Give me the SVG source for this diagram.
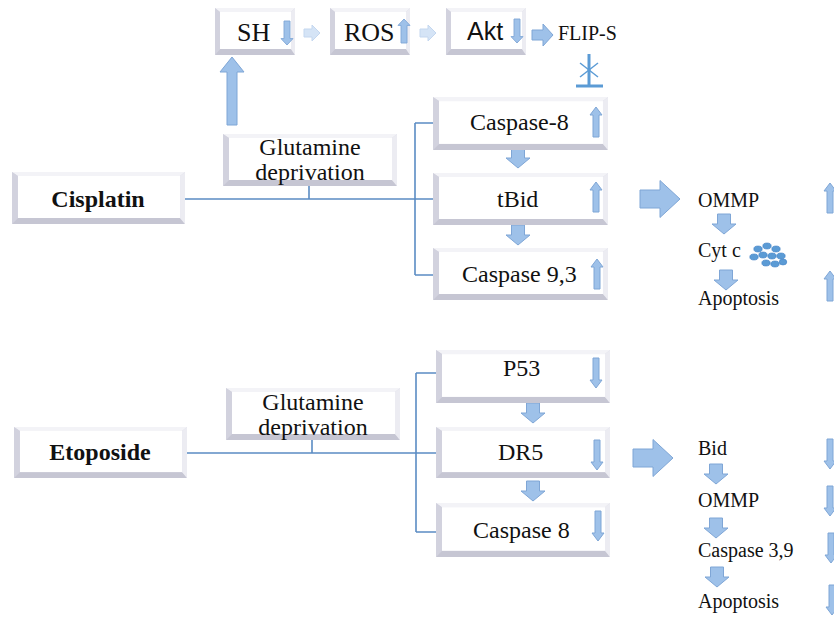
<svg xmlns="http://www.w3.org/2000/svg" xmlns:xlink="http://www.w3.org/1999/xlink" width="834" height="617" viewBox="0 0 834 617">
<style>
.t{font-family:"Liberation Serif","Times New Roman",serif;fill:#111}
.s24{font-size:24px}
.s20{font-size:20px}
.b{font-weight:bold}
.ln{stroke:#5b8cc4;stroke-width:1.6;fill:none}
.ar{fill:#9ec1e9;stroke:#7fa6d6;stroke-width:1}
.al{fill:#d5e4f6;stroke:#c4d7ef;stroke-width:1}
</style>
<defs>
<symbol id="box" viewBox="0 0 174 52" preserveAspectRatio="none">
<rect x="0" y="0" width="174" height="52" fill="#d9d9e4" stroke="#e4e4ec" stroke-width="1"/>
<polygon points="0,0 174,0 169,4 6,4" fill="#f3f3f7"/>
<polygon points="0,0 6,4 6,46 0,52" fill="#d2d2de"/>
<polygon points="0,52 6,46 169,46 174,52" fill="#c6c6d3"/>
<polygon points="174,0 174,52 169,46 169,4" fill="#ececf2"/>
<rect x="6" y="4" width="163" height="42" fill="#ffffff"/>
</symbol>
<symbol id="sbox" viewBox="0 0 80 47" preserveAspectRatio="none">
<rect x="0" y="0" width="80" height="47" fill="#d9d9e4" stroke="#e4e4ec" stroke-width="1"/>
<polygon points="0,0 80,0 76,4 5,4" fill="#f3f3f7"/>
<polygon points="0,0 5,4 5,41 0,47" fill="#d2d2de"/>
<polygon points="0,47 5,41 76,41 80,47" fill="#c6c6d3"/>
<polygon points="80,0 80,47 76,41 76,4" fill="#ececf2"/>
<rect x="5" y="4" width="71" height="37" fill="#ffffff"/>
</symbol>
<path id="up" class="ar" d="M0,-15 L6,-7 L3,-7 L3,15 L-3,15 L-3,-7 L-6,-7 Z"/>
<path id="dn" class="ar" d="M0,15 L6,7 L3,7 L3,-15 L-3,-15 L-3,7 L-6,7 Z"/>
<path id="bdn" class="ar" d="M-6.5,-10 L6.5,-10 L6.5,0 L12,0 L0,10 L-12,0 L-6.5,0 Z"/>
<path id="brt" class="ar" d="M-20,-9 L0,-9 L0,-18.5 L20,0 L0,18.5 L0,9 L-20,9 Z"/>
<path id="lrt" class="al" d="M-8,-4 L0,-4 L0,-8 L8,0 L0,8 L0,4 L-8,4 Z"/>
</defs>

<g id="connectors">
<path class="ln" d="M185,199 H415 M309,186 V199 M415,123 V275 M415,123 H433 M415,199 H433 M415,275 H433"/>
<path class="ln" d="M187,453 H416 M312,440 V453 M416,373 V532 M416,373 H436 M416,453 H436 M416,532 H436"/>
<path class="ar" d="M232,57 L244,72 L237,72 L237,125 L227,125 L227,72 L220,72 Z"/>
<use href="#lrt" x="312" y="33"/>
<use href="#lrt" x="428" y="33"/>
<path class="ar" d="M532,30 L543,30 L543,24 L553,35 L543,46 L543,40 L532,40 Z"/>
<g stroke="#5b9bd5" stroke-width="3" fill="none">
<line x1="589" y1="54" x2="589" y2="86"/>
<line x1="576" y1="86" x2="603" y2="86"/>
</g>
<g stroke="#5b9bd5" stroke-width="1.5">
<line x1="580" y1="63" x2="598" y2="77"/>
<line x1="580" y1="77" x2="598" y2="63"/>
</g>
<use href="#bdn" x="518" y="158"/>
<use href="#bdn" x="518" y="235"/>
<use href="#brt" x="660" y="199"/>
<use href="#bdn" x="724" y="224"/>
<use href="#bdn" x="726" y="280"/>
<use href="#bdn" x="533" y="413"/>
<use href="#bdn" x="533" y="491"/>
<use href="#brt" x="653" y="458"/>
<use href="#bdn" x="716" y="474"/>
<use href="#bdn" x="716" y="528"/>
<use href="#bdn" x="717" y="577"/>
</g>

<g id="n-sh">
<use href="#sbox" x="215" y="8" width="80" height="47"/>
<text class="t" x="237" y="41" font-size="26">SH</text>
<use href="#dn" x="287" y="33" transform="translate(287,33) scale(1,0.8) translate(-287,-33)"/>
</g>
<g id="n-ros">
<use href="#sbox" x="330" y="8" width="80" height="47"/>
<text class="t" x="344" y="41" font-size="26">ROS</text>
<use href="#up" x="404" y="31" transform="translate(404,31) scale(1,0.8) translate(-404,-31)"/>
</g>
<g id="n-akt">
<use href="#sbox" x="446" y="8" width="80" height="47"/>
<text x="467" y="40" font-size="25" font-family="Liberation Sans,Arial,sans-serif" fill="#111">Akt</text>
<use href="#dn" x="517" y="31" transform="translate(517,31) scale(1,0.8) translate(-517,-31)"/>
</g>
<g id="n-flips">
<text class="t" x="558" y="40" font-size="20">FLIP-S</text>
</g>

<g id="n-glut1">
<use href="#box" x="223" y="134" width="174" height="52"/>
<text class="t s24" x="310" y="155" text-anchor="middle">Glutamine</text>
<text class="t s24" x="310" y="180" text-anchor="middle">deprivation</text>
</g>
<g id="n-cisplatin">
<use href="#box" x="12" y="172" width="173" height="52"/>
<text class="t s24 b" x="98" y="207" text-anchor="middle">Cisplatin</text>
</g>
<g id="n-casp8">
<use href="#box" x="433" y="97" width="175" height="53"/>
<text class="t s24" x="470" y="130">Caspase-8</text>
<use href="#up" x="596" y="122"/>
</g>
<g id="n-tbid">
<use href="#box" x="433" y="173" width="175" height="52"/>
<text class="t s24" x="497" y="207">tBid</text>
<use href="#up" x="596" y="197"/>
</g>
<g id="n-casp93">
<use href="#box" x="433" y="248" width="175" height="52"/>
<text class="t s24" x="462" y="282">Caspase 9,3</text>
<use href="#up" x="597" y="274"/>
</g>
<g id="n-ommp1">
<text class="t s20" x="698" y="207">OMMP</text>
<use href="#up" x="830" y="198"/>
</g>
<g id="n-cytc">
<text class="t s20" x="698" y="257">Cyt c</text>
<g fill="#5b9bd5" stroke="#3f7fc4" stroke-width="0.6">
<ellipse cx="758" cy="249" rx="4.2" ry="3"/>
<ellipse cx="767" cy="246" rx="4.2" ry="3"/>
<ellipse cx="776" cy="249" rx="4.2" ry="3"/>
<ellipse cx="754" cy="257" rx="4.2" ry="3"/>
<ellipse cx="763" cy="255" rx="4.2" ry="3"/>
<ellipse cx="772" cy="256" rx="4.2" ry="3"/>
<ellipse cx="781" cy="256" rx="4.2" ry="3"/>
<ellipse cx="766" cy="263" rx="4.2" ry="3"/>
<ellipse cx="775" cy="264" rx="4.2" ry="3"/>
<ellipse cx="783" cy="262" rx="3.8" ry="3"/>
</g>
</g>
<g id="n-apop1">
<text class="t s20" x="698" y="305">Apoptosis</text>
<use href="#up" x="830" y="286"/>
</g>

<g id="n-glut2">
<use href="#box" x="226" y="388" width="174" height="52"/>
<text class="t s24" x="313" y="410" text-anchor="middle">Glutamine</text>
<text class="t s24" x="313" y="435" text-anchor="middle">deprivation</text>
</g>
<g id="n-etoposide">
<use href="#box" x="14" y="427" width="173" height="51"/>
<text class="t s24 b" x="100" y="460" text-anchor="middle">Etoposide</text>
</g>
<g id="n-p53">
<use href="#box" x="436" y="350" width="174" height="53"/>
<text class="t s24" x="503" y="376">P53</text>
<use href="#dn" x="596" y="373"/>
</g>
<g id="n-dr5">
<use href="#box" x="436" y="427" width="174" height="51"/>
<text class="t s24" x="498" y="460">DR5</text>
<use href="#dn" x="597" y="455"/>
</g>
<g id="n-casp8b">
<use href="#box" x="436" y="503" width="174" height="54"/>
<text class="t s24" x="473" y="538">Caspase 8</text>
<use href="#dn" x="598" y="526"/>
</g>
<g id="n-bid">
<text class="t s20" x="698" y="455">Bid</text>
<use href="#dn" x="830" y="454"/>
</g>
<g id="n-ommp2">
<text class="t s20" x="698" y="507">OMMP</text>
<use href="#dn" x="830" y="501"/>
</g>
<g id="n-casp39">
<text class="t s20" x="698" y="557">Caspase 3,9</text>
<use href="#dn" x="831" y="548"/>
</g>
<g id="n-apop2">
<text class="t s20" x="698" y="608">Apoptosis</text>
<use href="#dn" x="832" y="600"/>
</g>
</svg>
